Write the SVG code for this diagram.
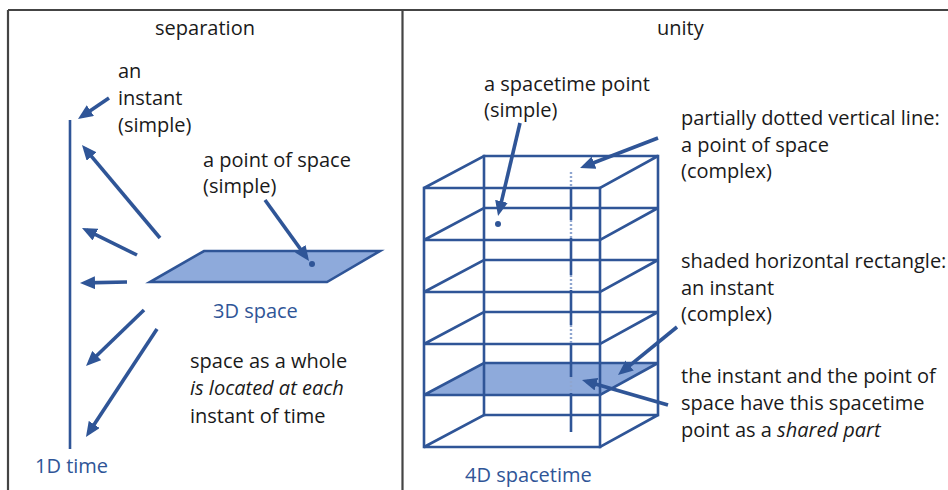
<svg xmlns="http://www.w3.org/2000/svg" width="948" height="490" viewBox="0 0 948 490">
<style>
  text { font-family: "Open Sans", "Noto Sans", sans-serif; font-size: 20px; fill: #1a1a1a; }
  .blue { fill: #2f5597; }
  .it { font-style: italic; }
  .frame { stroke: #444; stroke-width: 2.2; fill: none; }
  .edge { stroke: #2f5597; stroke-width: 2.6; fill: none; stroke-linecap: square; }
  .arrow { stroke: #2f5597; stroke-width: 3.6; fill: none; marker-end: url(#ah); }
  .dash { stroke: #8fa6d0; stroke-width: 2.4; stroke-dasharray: 2 2; fill: none; }
  .solid { stroke: #2f5597; stroke-width: 2.6; fill: none; }
  .shade { fill: #8eaadb; }
  .dot { fill: #2f5597; }
</style>
<defs>
  <marker id="ah" viewBox="0 0 15 13" refX="10" refY="6.5" markerWidth="15" markerHeight="13" markerUnits="userSpaceOnUse" orient="auto">
    <path d="M0,0 L15,6.5 L0,13 z" fill="#2f5597"/>
  </marker>
</defs>
<rect width="948" height="490" fill="#ffffff"/>
<g id="frame">
  <line class="frame" x1="8" y1="10" x2="948" y2="10"/>
  <line class="frame" x1="8" y1="10" x2="8" y2="490"/>
  <line class="frame" x1="402.5" y1="10" x2="402.5" y2="490"/>
</g>

<g id="separation-title"><text x="205" y="35" text-anchor="middle">separation</text></g>

<g id="time-line">
  <line class="solid" x1="70" y1="120" x2="70" y2="449" stroke-width="2.8"/>
  <text class="blue" x="35" y="473">1D time</text>
</g>

<g id="space-plane">
  <polygon points="204,251 380,251 327,282 150,282" fill="#8eaadb" stroke="#2f5597" stroke-width="2.6" stroke-linejoin="miter"/>
  <circle class="dot" cx="312" cy="264" r="3"/>
  <text class="blue" x="213" y="318">3D space</text>
</g>

<g id="label-instant">
  <text x="118" y="78">an</text>
  <text x="118" y="105">instant</text>
  <text x="118" y="132">(simple)</text>
</g>
<g id="label-point-of-space">
  <text x="203" y="167">a point of space</text>
  <text x="203" y="193">(simple)</text>
</g>
<g id="label-located">
  <text x="190" y="368">space as a whole</text>
  <text class="it" x="190" y="395">is located at each</text>
  <text x="190" y="423">instant of time</text>
</g>

<g id="unity-title"><text x="657" y="35">unity</text></g>

<g id="spacetime-box">
  <polygon class="shade" points="424,395 484,363 658,363 600,395"/>
  <g class="edge">
    <line x1="424" y1="188" x2="424" y2="447"/>
    <line x1="600" y1="188" x2="600" y2="447"/>
    <line x1="484" y1="156" x2="484" y2="415"/>
    <line x1="658" y1="156" x2="658" y2="415"/>
    <polygon points="424,188 484,156 658,156 600,188"/>
    <polygon points="424,240 484,208 658,208 600,240"/>
    <polygon points="424,292 484,260 658,260 600,292"/>
    <polygon points="424,344 484,312 658,312 600,344"/>
    <polygon points="424,395 484,363 658,363 600,395"/>
    <polygon points="424,447 484,415 658,415 600,447"/>
  </g>
  <circle class="dot" cx="498" cy="224" r="3"/>
  <text class="blue" x="465" y="482">4D spacetime</text>
</g>

<g id="point-of-space-line">
  <line class="dash" x1="571" y1="172" x2="571" y2="187"/>
  <line class="solid" x1="571" y1="187" x2="571" y2="220"/>
  <line class="dash" x1="571" y1="220" x2="571" y2="238"/>
  <line class="solid" x1="571" y1="238" x2="571" y2="275"/>
  <line class="dash" x1="571" y1="275" x2="571" y2="290"/>
  <line class="solid" x1="571" y1="290" x2="571" y2="325"/>
  <line class="dash" x1="571" y1="325" x2="571" y2="343"/>
  <line class="solid" x1="571" y1="343" x2="571" y2="377"/>
  <line class="dash" x1="571" y1="377" x2="571" y2="393"/>
  <line class="solid" x1="571" y1="393" x2="571" y2="432"/>
</g>

<g id="label-spacetime-point">
  <text x="484" y="91">a spacetime point</text>
  <text x="484" y="117">(simple)</text>
</g>
<g id="label-dotted-line">
  <text x="681" y="125">partially dotted vertical line:</text>
  <text x="681" y="152">a point of space</text>
  <text x="681" y="178">(complex)</text>
</g>
<g id="label-shaded">
  <text x="681" y="268">shaded horizontal rectangle:</text>
  <text x="681" y="295">an instant</text>
  <text x="681" y="321">(complex)</text>
</g>
<g id="label-shared">
  <text x="681" y="383">the instant and the point of</text>
  <text x="681" y="410">space have this spacetime</text>
  <text x="681" y="437">point as a <tspan class="it">shared part</tspan></text>
</g>

<g id="connectors">
  <line class="arrow" x1="109" y1="98" x2="82.1" y2="116.2"/>
  <line class="arrow" x1="160" y1="238" x2="85.2" y2="148.8"/>
  <line class="arrow" x1="137" y1="255" x2="86.5" y2="230.2"/>
  <line class="arrow" x1="127" y1="282" x2="85" y2="282.9"/>
  <line class="arrow" x1="144" y1="310" x2="89.6" y2="362.5"/>
  <line class="arrow" x1="157" y1="329" x2="88.7" y2="432.8"/>
  <line class="arrow" x1="265" y1="200" x2="306.1" y2="256.9"/>
  <line class="arrow" x1="520" y1="123" x2="499.2" y2="211.1"/>
  <line class="arrow" x1="658" y1="138" x2="584.7" y2="166.2"/>
  <line class="arrow" x1="677" y1="327" x2="621.9" y2="371.8"/>
  <line class="arrow" x1="668" y1="405" x2="586.8" y2="381.4"/>
</g>
</svg>
